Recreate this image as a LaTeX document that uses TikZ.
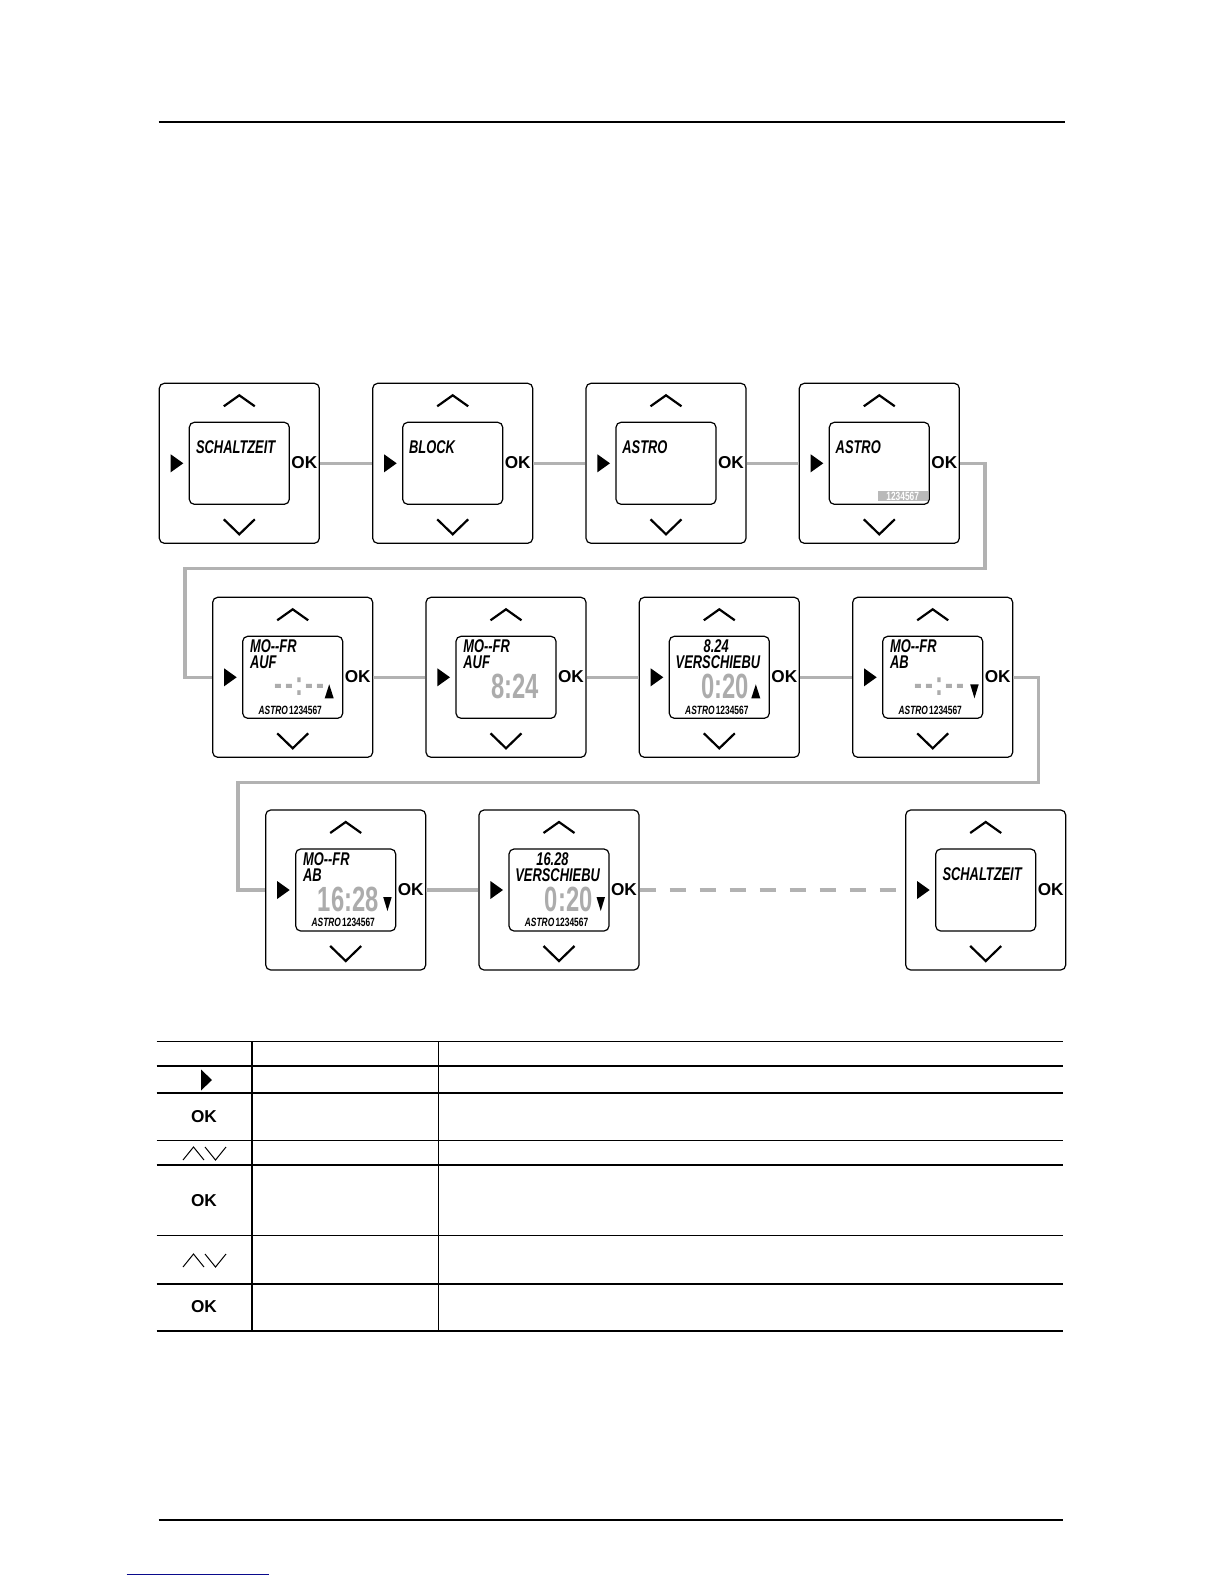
\documentclass[tikz,border=0pt]{standalone}
\usepackage{fontspec}
\setmainfont{Liberation Sans}
\newfontfamily\lcd[FakeStretch=0.7]{Liberation Sans}
\newfontfamily\seg[FakeStretch=0.68]{Liberation Sans}
\definecolor{conngray}{RGB}{178,178,178}
\definecolor{seggray}{RGB}{172,172,172}
\definecolor{linkblue}{RGB}{10,10,140}
\tikzset{
 panelbox/.style={draw, line width=0.6pt, rounded corners=2.5pt, minimum width=80pt, minimum height=80pt, inner sep=0pt},
 dispbox/.style={draw, line width=0.6pt, rounded corners=2.5pt, minimum width=50pt, minimum height=41pt, inner sep=0pt},
 chev/.style={line width=1.1pt},
 oklabel/.style={font=\bfseries\fontsize{8.6}{8.6}\selectfont, inner sep=0pt},
 lcdtext/.style={font=\lcd\bfseries\itshape\fontsize{9.2}{9.2}\selectfont, inner sep=0pt, anchor=north west},
 smalltext/.style={font=\lcd\bfseries\itshape\fontsize{6}{6}\selectfont, inner sep=0pt, anchor=north west},
 segtext/.style={font=\seg\bfseries\fontsize{17.5}{17.5}\selectfont, text=seggray, inner sep=0pt, anchor=base east},
 conn/.style={draw=conngray, line width=1.8pt},
 pagerule/.style={line width=0.6pt},
 tabline/.style={line width=0.7pt},
}
\newcommand\mypanel[3]{%
 \begin{scope}[shift={(#2,#3)}]
 \node[panelbox] (#1) at (0,0) {};
 \node[dispbox] (#1d) at (0,0) {};
 \draw[chev] (-15.5,-57) -- (0,-68) -- (15.5,-57);
 \draw[chev] (-15.5,56) -- (0,71) -- (15.5,56);
 \fill (-68.6,-9) -- (-56,0) -- (-68.6,9) -- cycle;
 \node[oklabel] (#1ok) at (65,-0.8) {OK};
 \end{scope}}
\newcommand\upmark{\fill (82,62) -- (91,62) -- (86.5,48) -- cycle;}
\newcommand\downmark{\fill (87.5,48) -- (96,48) -- (91.75,62) -- cycle;}
\newcommand\dashtime[1]{\node[segtext] (#1) at (81.7,59.5) {-\kern1.2pt-\kern1.2pt:\kern1.2pt-\kern1.2pt-};}
\newcommand\astroline[1]{\node[smalltext] (#1) at (15.5,69) {ASTRO\kern0.6pt{\upshape 1234567}};}
\begin{document}
\begin{tikzpicture}[x=0.5pt,y=-0.5pt]
\useasboundingbox (0,0) rectangle (1224,1584);
% page rules
\draw[pagerule] (158.6,122) -- (1064.5,122);
\draw[pagerule] (158.6,1520) -- (1063.4,1520);
\draw[line width=0.6pt, linkblue] (126.7,1574.7) -- (269,1574.7);

% panels row 1
\mypanel{p1}{239.3}{463.3}
\mypanel{p2}{452.7}{463.3}
\mypanel{p3}{666}{463.3}
\mypanel{p4}{879.3}{463.3}
% row 2
\mypanel{p5}{292.7}{677.3}
\mypanel{p6}{506}{677.3}
\mypanel{p7}{719.3}{677.3}
\mypanel{p8}{932.7}{677.3}
% row 3
\mypanel{p9}{345.7}{890}
\mypanel{p10}{559}{890}
\mypanel{p11}{985.7}{890}

% display contents
\begin{scope}[shift={(189.3,422.3)}]
 \node[lcdtext] (p1t) at (6.4,18.4) {SCHALTZEIT};
\end{scope}
\begin{scope}[shift={(402.7,422.3)}]
 \node[lcdtext] (p2t) at (6,18.4) {BLOCK};
\end{scope}
\begin{scope}[shift={(616,422.3)}]
 \node[lcdtext] (p3t) at (6,18.4) {ASTRO};
\end{scope}
\begin{scope}[shift={(829.3,422.3)}]
 \node[lcdtext] (p4t) at (6,18.4) {ASTRO};
 \node[fill=gray!55, text=white, inner sep=0pt, minimum width=25pt, minimum height=5pt, anchor=north west,
   font=\lcd\bfseries\fontsize{6}{6}\selectfont] (p4b) at (48,68.4) {1234567};
\end{scope}

\begin{scope}[shift={(242.7,636.3)}]
 \node[lcdtext] (p5t1) at (7,3.3) {MO-{}-FR};
 \node[lcdtext] (p5t2) at (7,19) {AUF};
 \dashtime{p5s}
 \upmark
 \astroline{p5a}
\end{scope}
\begin{scope}[shift={(456,636.3)}]
 \node[lcdtext] (p6t1) at (7,3.3) {MO-{}-FR};
 \node[lcdtext] (p6t2) at (7,19) {AUF};
 \node[segtext] (p6s) at (83.3,62) {8:24};
\end{scope}
\begin{scope}[shift={(669.3,636.3)}]
 \node[lcdtext] (p7t1) at (34,3) {8.24};
 \node[lcdtext] (p7t2) at (6,18.8) {VERSCHIEBU};
 \node[segtext] (p7s) at (80,62) {0:20};
 \upmark
 \astroline{p7a}
\end{scope}
\begin{scope}[shift={(882.7,636.3)}]
 \node[lcdtext] (p8t1) at (7,3.3) {MO-{}-FR};
 \node[lcdtext] (p8t2) at (7,19) {AB};
 \dashtime{p8s}
 \downmark
 \astroline{p8a}
\end{scope}
\begin{scope}[shift={(295.7,849)}]
 \node[lcdtext] (p9t1) at (7,3.3) {MO-{}-FR};
 \node[lcdtext] (p9t2) at (7,19) {AB};
 \node[segtext] (p9s) at (83.5,62) {16:28};
 \downmark
 \astroline{p9a}
\end{scope}
\begin{scope}[shift={(509,849)}]
 \node[lcdtext] (p10t1) at (27,3) {16.28};
 \node[lcdtext] (p10t2) at (6,18.8) {VERSCHIEBU};
 \node[segtext] (p10s) at (84,62) {0:20};
 \downmark
 \astroline{p10a}
\end{scope}
\begin{scope}[shift={(935.7,849)}]
 \node[lcdtext] (p11t) at (6.4,18.4) {SCHALTZEIT};
\end{scope}

% connectors
\draw[conn] (p1.east) -- (p2.west);
\draw[conn] (p2.east) -- (p3.west);
\draw[conn] (p3.east) -- (p4.west);
\coordinate (c1) at (985,568.6);
\coordinate (c2) at (184.8,568.6);
\draw[conn] (p4.east) -| (c1) -- (c2) |- (p5.west);
\draw[conn] (p5.east) -- (p6.west);
\draw[conn] (p6.east) -- (p7.west);
\draw[conn] (p7.east) -- (p8.west);
\coordinate (c3) at (1038.4,782.6);
\coordinate (c4) at (237.8,782.6);
\draw[conn] (p8.east) -| (c3) -- (c4) |- (p9.west);
\draw[conn] (p9.east) -- (p10.west);
\draw[conn, dash pattern=on 8pt off 7pt] (p10.east) -- (p11.west);

% table
\foreach \yy in {1041.7,1065.8,1093,1140.2,1164.8,1235.5,1283.9,1331.1}
  \draw[tabline] (156.5,\yy) -- (1063.4,\yy);
\draw[tabline] (252,1041.7) -- (252,1331.1);
\draw[tabline] (438.5,1041.7) -- (438.5,1331.1);
\fill (201,1069.5) -- (212,1080) -- (201,1090.5) -- cycle;
\node[oklabel] (t1) at (204,1116.7) {OK};
\node[oklabel] (t2) at (204,1201) {OK};
\node[oklabel] (t3) at (204,1307) {OK};
\draw[line width=0.5pt] (183,1160) -- (193.5,1147) -- (204,1160);
\draw[line width=0.5pt] (205,1147) -- (215.5,1160) -- (226,1147);
\draw[line width=0.5pt] (183,1267) -- (193.5,1254) -- (204,1267);
\draw[line width=0.5pt] (205,1254) -- (215.5,1267) -- (226,1254);
\end{tikzpicture}
\end{document}
